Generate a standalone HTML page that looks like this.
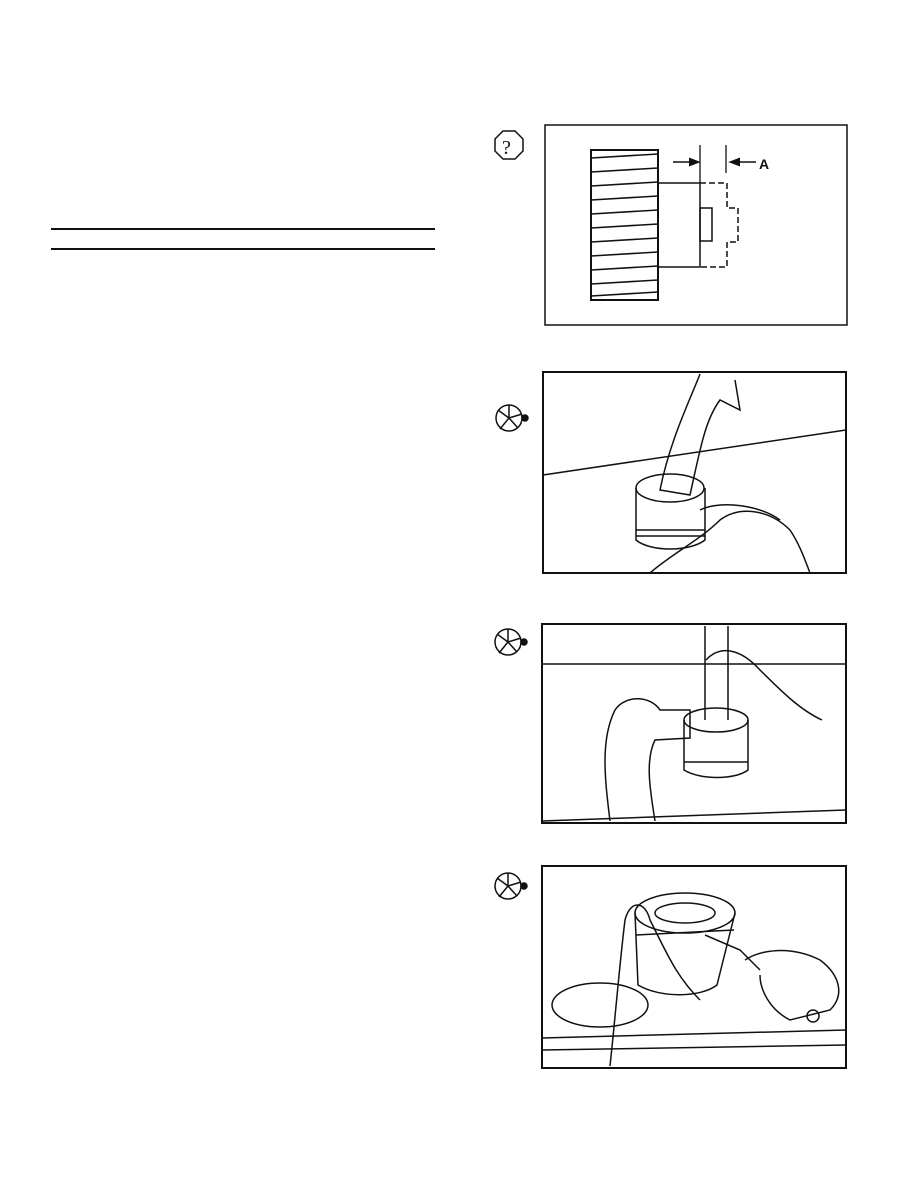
<!DOCTYPE html>
<html><head><style>
body{margin:0;background:#fff;width:918px;height:1188px;position:relative;overflow:hidden;font-family:"Liberation Sans",sans-serif}
svg{position:absolute;left:0;top:0}
</style></head><body>
<svg width="918" height="1188" viewBox="0 0 918 1188" fill="none" stroke="#111" stroke-width="2">
<line x1="51" y1="229" x2="435" y2="229"/>
<line x1="51" y1="249" x2="435" y2="249"/>
<!-- panel 1 -->
<rect x="545" y="125" width="302" height="200" stroke-width="1.5"/>
<polygon points="503,131 515,131 523,139 523,151 515,159 503,159 495,151 495,139" stroke-width="1.5"/>
<text x="502" y="154" font-size="20" fill="#111" stroke="none" font-family="Liberation Serif">?</text>
<rect x="591" y="150" width="67" height="150" stroke-width="2"/>
<g stroke-width="1.5">
<line x1="591" y1="158" x2="658" y2="154"/><line x1="591" y1="172" x2="658" y2="168"/>
<line x1="591" y1="186" x2="658" y2="182"/><line x1="591" y1="200" x2="658" y2="196"/>
<line x1="591" y1="214" x2="658" y2="210"/><line x1="591" y1="228" x2="658" y2="224"/>
<line x1="591" y1="242" x2="658" y2="238"/><line x1="591" y1="256" x2="658" y2="252"/>
<line x1="591" y1="270" x2="658" y2="266"/><line x1="591" y1="284" x2="658" y2="280"/>
<line x1="591" y1="296" x2="658" y2="292"/>
</g>
<polyline points="658,183 700,183 700,267 658,267" stroke-width="1.5"/>
<rect x="700" y="208" width="12" height="33" stroke-width="1.5"/>
<polyline points="700,183 727,183 727,208 738,208 738,242 727,242 727,267 700,267" stroke-width="1.5" stroke-dasharray="6,3"/>
<line x1="700" y1="145" x2="700" y2="183" stroke-width="1.3"/>
<line x1="726" y1="145" x2="726" y2="173" stroke-width="1.3"/>
<line x1="673" y1="162" x2="692" y2="162" stroke-width="1.5"/>
<polygon points="698,162 690,159 690,165" fill="#111"/>
<line x1="737" y1="162" x2="756" y2="162" stroke-width="1.5"/>
<polygon points="731,162 739,159 739,165" fill="#111"/>
<text x="759" y="169" font-size="14" font-weight="bold" fill="#111" stroke="none">A</text>
<!-- icons -->
<g stroke-width="1.5">
<circle cx="509" cy="418" r="13"/><path d="M509 418 L498 410 M509 418 L509 405 M509 418 L500 429 M509 418 L522 414 M509 418 L518 428"/><circle cx="525" cy="418" r="3" fill="#111"/>
<circle cx="508" cy="642" r="13"/><path d="M508 642 L497 634 M508 642 L508 629 M508 642 L499 653 M508 642 L521 638 M508 642 L517 652"/><circle cx="524" cy="642" r="3" fill="#111"/>
<circle cx="508" cy="886" r="13"/><path d="M508 886 L497 878 M508 886 L508 873 M508 886 L499 897 M508 886 L521 882 M508 886 L517 896"/><circle cx="524" cy="886" r="3" fill="#111"/>
</g>
<!-- panel 2 -->
<rect x="543" y="372" width="303" height="201"/>
<g stroke-width="1.5">
<line x1="543" y1="475" x2="846" y2="430"/>
<path d="M700 374 C690 400 670 440 660 490 L690 495 C700 450 705 420 720 400 L740 410 L735 380"/>
<ellipse cx="670" cy="488" rx="34" ry="14"/>
<path d="M636 488 L636 540 C650 552 690 552 705 540 L705 488"/>
<line x1="636" y1="530" x2="705" y2="530"/><line x1="636" y1="536" x2="705" y2="536"/>
<path d="M650 573 C670 555 700 540 720 520 C740 505 770 510 790 530 C800 545 805 560 810 573"/>
<path d="M700 510 C720 500 760 505 780 520"/>
</g>
<!-- panel 3 -->
<rect x="542" y="624" width="304" height="199"/>
<g stroke-width="1.5">
<line x1="542" y1="664" x2="846" y2="664"/>
<line x1="542" y1="821" x2="846" y2="810"/>
<path d="M705 626 L705 720 M728 626 L728 720"/>
<ellipse cx="716" cy="720" rx="32" ry="12"/>
<path d="M684 720 L684 770 C700 780 735 780 748 770 L748 720"/>
<line x1="684" y1="762" x2="748" y2="762"/>
<path d="M610 821 C605 780 600 740 615 710 C625 695 650 695 660 710 L690 710 L690 738 L655 740 C645 760 650 790 655 821"/>
<path d="M706 660 C720 645 740 648 760 670 C780 690 800 710 822 720"/>
</g>
<!-- panel 4 -->
<rect x="542" y="866" width="304" height="202"/>
<g stroke-width="1.5">
<line x1="542" y1="1038" x2="846" y2="1030"/>
<line x1="542" y1="1050" x2="846" y2="1045"/>
<ellipse cx="685" cy="913" rx="50" ry="20"/>
<ellipse cx="685" cy="913" rx="30" ry="10"/>
<path d="M635 913 L638 985 C660 998 700 998 717 985 L735 913"/>
<line x1="636" y1="935" x2="734" y2="930"/>
<ellipse cx="600" cy="1005" rx="48" ry="22"/>
<path d="M610 1066 C615 1020 620 960 625 920 C630 900 645 900 650 920 L660 940 C670 960 680 980 700 1000"/>
<path d="M705 935 L740 950 L760 970 M745 960 C760 950 790 945 820 960 C840 975 845 995 830 1010 L790 1020 C770 1010 760 990 760 975"/>
<circle cx="813" cy="1016" r="6"/>
</g>
</svg>
</body></html>
